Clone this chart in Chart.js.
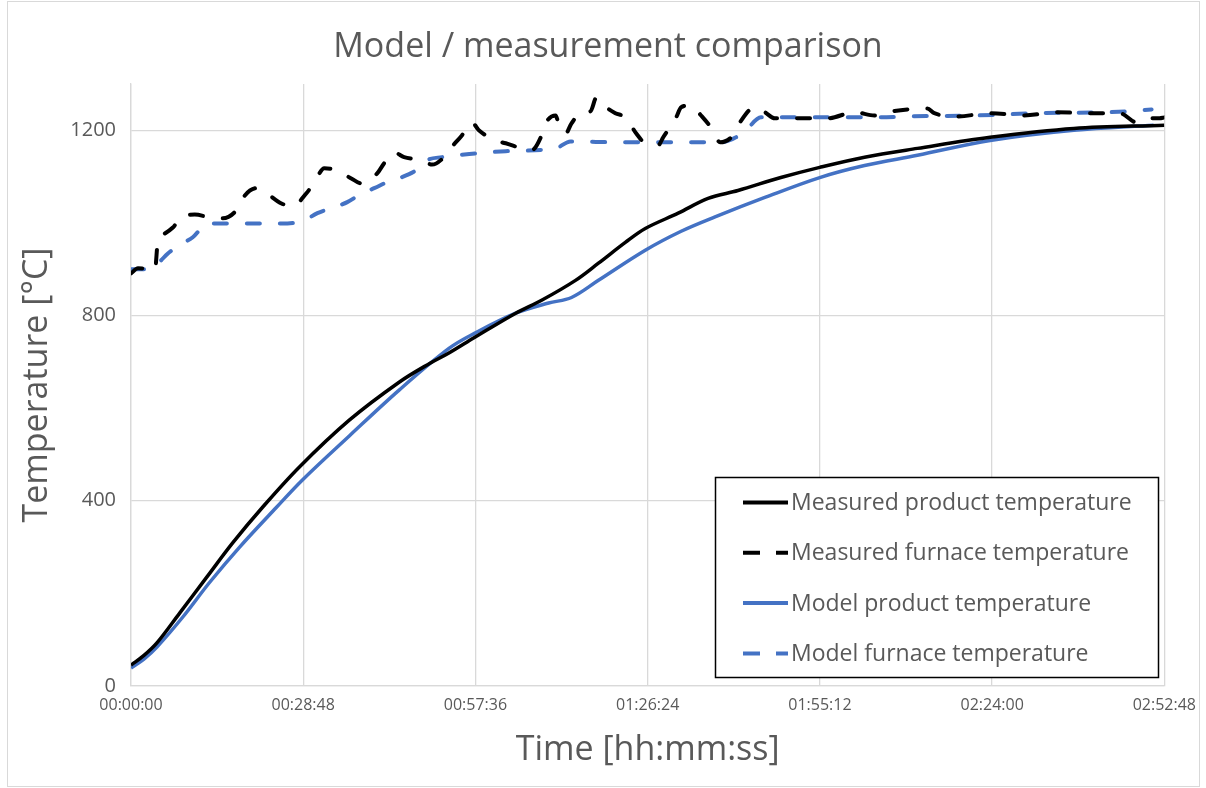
<!DOCTYPE html>
<html>
<head>
<meta charset="utf-8">
<script src="https://cdn.jsdelivr.net/npm/chart.js@4/dist/chart.umd.min.js"></script>
<style>
  html, body { margin: 0; padding: 0; background: #fff; }
  #wrap { width: 1206px; height: 788px; position: relative; }
</style>
</head>
<body>
<div id="wrap"><canvas id="chart" width="1206" height="788"></canvas></div>
<script>
// time in seconds, temperature in °C
const measProdT = [0, 130, 260, 490, 760, 1020, 1320, 1690, 2190, 2690, 3000, 3190, 3450, 3860, 4120, 4460, 4690, 4960, 5160, 5490, 5790, 6090, 6520, 6910, 7360, 7890, 8620, 9460, 10368];
const measProdV = [45, 66, 93, 158, 235, 309, 386, 473, 574, 656, 697, 719, 753, 805, 833, 876, 913, 958, 988, 1021, 1053, 1070, 1098, 1120, 1142, 1161, 1185, 1204, 1211];

const measFurnT = [0, 70, 240, 270, 310, 420, 520, 640, 790, 920, 1070, 1120, 1260, 1360, 1510, 1620, 1760, 1840, 1940, 2060, 2210, 2320, 2470, 2540, 2640, 2740, 2920, 3020, 3140, 3190, 3320, 3420, 3490, 3660, 3760, 3920, 4020, 4120, 4160, 4260, 4290, 4360, 4420, 4520, 4610, 4670, 4720, 4860, 4960, 5070, 5160, 5290, 5340, 5470, 5520, 5620, 5720, 5840, 5910, 6040, 6110, 6260, 6360, 6460, 6660, 6990, 7260, 7460, 7590, 7790, 7990, 8060, 8290, 8620, 8960, 9290, 9620, 9920, 10090, 10190, 10320, 10368];
const measFurnV = [891, 902, 898, 962, 973, 990, 1016, 1018, 1012, 1010, 1031, 1053, 1075, 1064, 1042, 1036, 1064, 1088, 1118, 1114, 1096, 1085, 1107, 1129, 1152, 1142, 1135, 1126, 1142, 1157, 1189, 1217, 1200, 1178, 1172, 1161, 1157, 1189, 1215, 1232, 1215, 1193, 1215, 1239, 1241, 1271, 1258, 1237, 1228, 1193, 1172, 1168, 1185, 1228, 1250, 1254, 1232, 1200, 1174, 1189, 1217, 1250, 1239, 1226, 1226, 1226, 1239, 1232, 1239, 1245, 1247, 1237, 1230, 1237, 1232, 1239, 1237, 1237, 1217, 1226, 1226, 1228];

const modelProdT = [0, 130, 260, 520, 790, 1090, 1460, 1720, 2190, 2690, 3190, 3450, 3860, 4190, 4420, 4690, 5160, 5520, 5860, 6360, 6910, 7360, 7890, 8620, 9460, 10260];
const modelProdV = [39, 58, 84, 149, 224, 300, 386, 445, 540, 639, 729, 762, 805, 827, 839, 876, 941, 982, 1013, 1055, 1098, 1124, 1146, 1178, 1200, 1211];

const modelFurnT = [0, 140, 270, 370, 520, 620, 770, 910, 1570, 1740, 1870, 2040, 2170, 2320, 2440, 2610, 2720, 2890, 2970, 3120, 3460, 3760, 4260, 4410, 4920, 5920, 6070, 6170, 6320, 6790, 7520, 7790, 8460, 9120, 9790, 10020, 10240];
const modelFurnV = [900, 900, 913, 934, 956, 969, 999, 999, 999, 1006, 1021, 1034, 1045, 1064, 1075, 1092, 1099, 1118, 1135, 1142, 1150, 1155, 1161, 1176, 1174, 1174, 1185, 1200, 1228, 1228, 1228, 1230, 1232, 1237, 1239, 1241, 1245];

const yTicks = [0, 400, 800, 1200];

const BLUE = '#4472C4';
const TEXT = '#595959';
const FONT = "'Open Sans', sans-serif";

function pts(ts, vs) { return ts.map((t, i) => ({ x: t, y: vs[i] })); }

function hms(sec) {
    const h = Math.floor(sec / 3600), m = Math.floor((sec % 3600) / 60), s = Math.round(sec % 60);
    return [h, m, s].map(v => String(v).padStart(2, '0')).join(':');
}

// white background, light outer frame and the title (centred on the frame, not the plot)
const frame = {
    id: 'frame',
    beforeDraw(chart) {
        const ctx = chart.ctx;
        ctx.save();
        ctx.fillStyle = '#fff';
        ctx.fillRect(0, 0, chart.width, chart.height);
        ctx.strokeStyle = '#d9d9d9';
        ctx.lineWidth = 1;
        ctx.strokeRect(7.5, 1.5, 1192, 785);
        ctx.fillStyle = TEXT;
        ctx.font = "34px " + FONT;
        ctx.textAlign = 'center';
        ctx.textBaseline = 'alphabetic';
        ctx.fillText('Model / measurement comparison', 608, 57);
        ctx.restore();
    }
};

// boxed legend inside the plot area, bottom right
const boxLegend = {
    id: 'boxLegend',
    afterDraw(chart) {
        const ctx = chart.ctx;
        ctx.save();
        ctx.fillStyle = '#fff';
        ctx.fillRect(715, 477, 444, 201);
        ctx.strokeStyle = '#000';
        ctx.lineWidth = 1.5;
        ctx.strokeRect(715.5, 477.5, 443, 200);
        ctx.font = "23px " + FONT;
        ctx.textBaseline = 'middle';
        chart.data.datasets.forEach((ds, i) => {
            const y = 502.5 + i * 50.3;
            ctx.beginPath();
            ctx.strokeStyle = ds.borderColor;
            ctx.lineWidth = 4;
            ctx.lineCap = 'butt';
            ctx.setLineDash(ds.borderDash && ds.borderDash.length ? [17, 16] : []);
            ctx.moveTo(743, y);
            ctx.lineTo(788, y);
            ctx.stroke();
            ctx.setLineDash([]);
            ctx.fillStyle = TEXT;
            ctx.fillText(ds.label, 791, y + 1);
        });
        ctx.restore();
    }
};

const solid = { pointRadius: 0, borderWidth: 3.5, fill: false, tension: 0.35 };
const dashed = {
    pointRadius: 0, borderWidth: 4, fill: false,
    cubicInterpolationMode: 'monotone',
    borderCapStyle: 'round', borderJoinStyle: 'round',
    borderDash: [13, 20]
};

new Chart(document.getElementById('chart'), {
    type: 'line',
    data: {
        datasets: [
            { ...solid, label: 'Measured product temperature', data: pts(measProdT, measProdV), borderColor: '#000' },
            { ...dashed, label: 'Measured furnace temperature', data: pts(measFurnT, measFurnV), borderColor: '#000' },
            { ...solid, label: 'Model product temperature', data: pts(modelProdT, modelProdV), borderColor: BLUE },
            { ...dashed, label: 'Model furnace temperature', data: pts(modelFurnT, modelFurnV), borderColor: BLUE }
        ]
    },
    options: {
        responsive: false,
        animation: false,
        layout: { padding: { left: 0, right: 40, top: 84, bottom: 0 } },
        plugins: {
            legend: { display: false },
            tooltip: { enabled: false },
            title: { display: false }
        },
        scales: {
            x: {
                type: 'linear',
                min: 0,
                max: 10368,
                afterFit: (s) => { s.height = 102; },
                ticks: {
                    stepSize: 1728,
                    color: TEXT,
                    padding: 10,
                    maxRotation: 0,
                    font: { family: FONT, size: 16 },
                    callback: (v) => hms(v)
                },
                grid: { color: '#d9d9d9', lineWidth: 1.3, drawTicks: false },
                border: { color: '#d9d9d9', width: 1.3 },
                title: {
                    display: true,
                    text: 'Time [hh:mm:ss]',
                    color: TEXT,
                    font: { family: FONT, size: 34, lineHeight: 1.2 },
                    padding: { top: 0, bottom: 17 }
                }
            },
            y: {
                min: 0,
                max: 1300,
                afterFit: (s) => { s.width = 131; },
                afterBuildTicks: (s) => { s.ticks = yTicks.map(v => ({ value: v })); },
                ticks: {
                    color: TEXT,
                    padding: 15,
                    font: { family: FONT, size: 20 },
                    callback: (v) => String(v)
                },
                grid: { color: '#d9d9d9', lineWidth: 1.3, drawTicks: false },
                border: { color: '#d9d9d9', width: 1.3 },
                title: {
                    display: true,
                    text: 'Temperature [°C]',
                    color: TEXT,
                    font: { family: FONT, size: 34, lineHeight: 1.2 },
                    padding: { top: 17, bottom: 0 }
                }
            }
        }
    },
    plugins: [frame, boxLegend]
});
</script>
</body>
</html>
